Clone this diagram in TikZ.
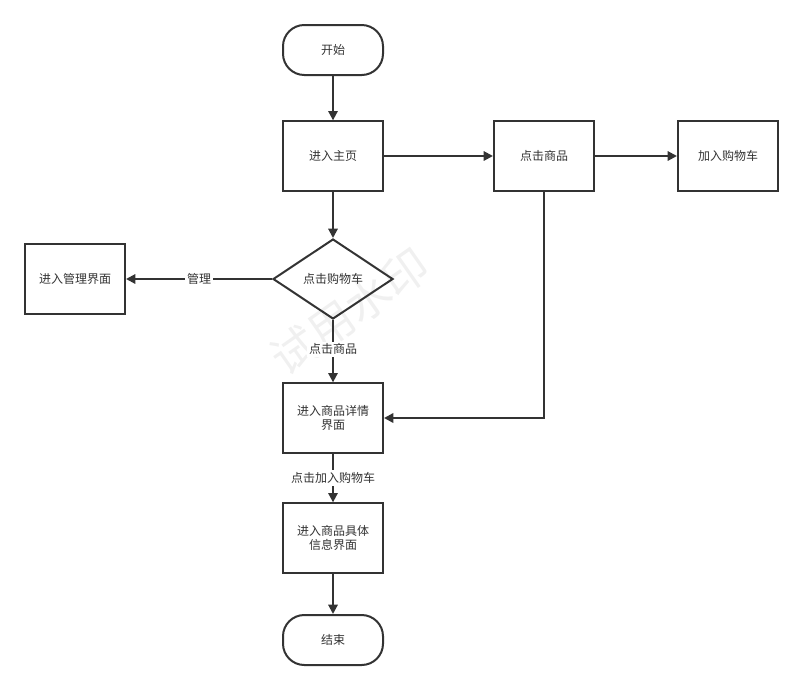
\documentclass[tikz,border=0pt]{standalone}
\usepackage{fontspec}
\newfontfamily\cjk{Noto Sans CJK SC}
\usetikzlibrary{arrows.meta,shapes.geometric}
\definecolor{ink}{HTML}{333333}
\begin{document}
\begin{tikzpicture}[
    x=0.75pt, y=-0.75pt,
    font=\cjk\fontsize{9pt}{11pt}\selectfont,
    >={Triangle[length=7pt,width=7pt]},
    line width=1.5pt,
    box/.style={draw=ink, text=ink, minimum width=75pt, minimum height=52pt, inner sep=2pt, align=center},
    term/.style={box, minimum height=37.5pt, rounded corners=16pt},
    choice/.style={draw=ink, text=ink, diamond, aspect=1.5, minimum width=90pt, minimum height=60pt, inner sep=0pt},
    lab/.style={fill=white, text=ink, inner sep=1.5pt},
    flow/.style={draw=ink, ->}
  ]
    \useasboundingbox (0,0) rectangle (803,690);
    % watermark
    \node[text=black!6, rotate=35, font=\cjk\fontsize{34pt}{36pt}\selectfont] (mark) at (350,312) {试用水印};

    \node[term] (start) at (333,50) {开始};
    \node[box] (home) at (333,156) {进入主页};
    \node[box] (goods) at (544,156) {点击商品};
    \node[box] (cart) at (728,156) {加入购物车};
    \node[choice] (ask) at (333,279) {点击购物车};
    \node[box] (admin) at (75,279) {进入管理界面};
    \node[box] (detail) at (333,418) {进入商品详情\\界面};
    \node[box] (info) at (333,538) {进入商品具体\\信息界面};
    \node[term] (stop) at (333,640) {结束};

    \draw[flow] (start) -- (home);
    \draw[flow] (home) -- (goods);
    \draw[flow] (goods) -- (cart);
    \draw[flow] (home) -- (ask);
    \draw[flow] (ask) -- node[lab] {管理} (admin);
    \draw[flow] (ask) -- node[lab, pos=0.47] {点击商品} (detail);
    \draw[flow, line width=2.2pt] (goods.south) |- (detail.east);
    \draw[flow] (detail) -- node[lab, pos=0.5] {点击加入购物车} (info);
    \draw[flow] (info) -- (stop);
  \end{tikzpicture}
\end{document}
